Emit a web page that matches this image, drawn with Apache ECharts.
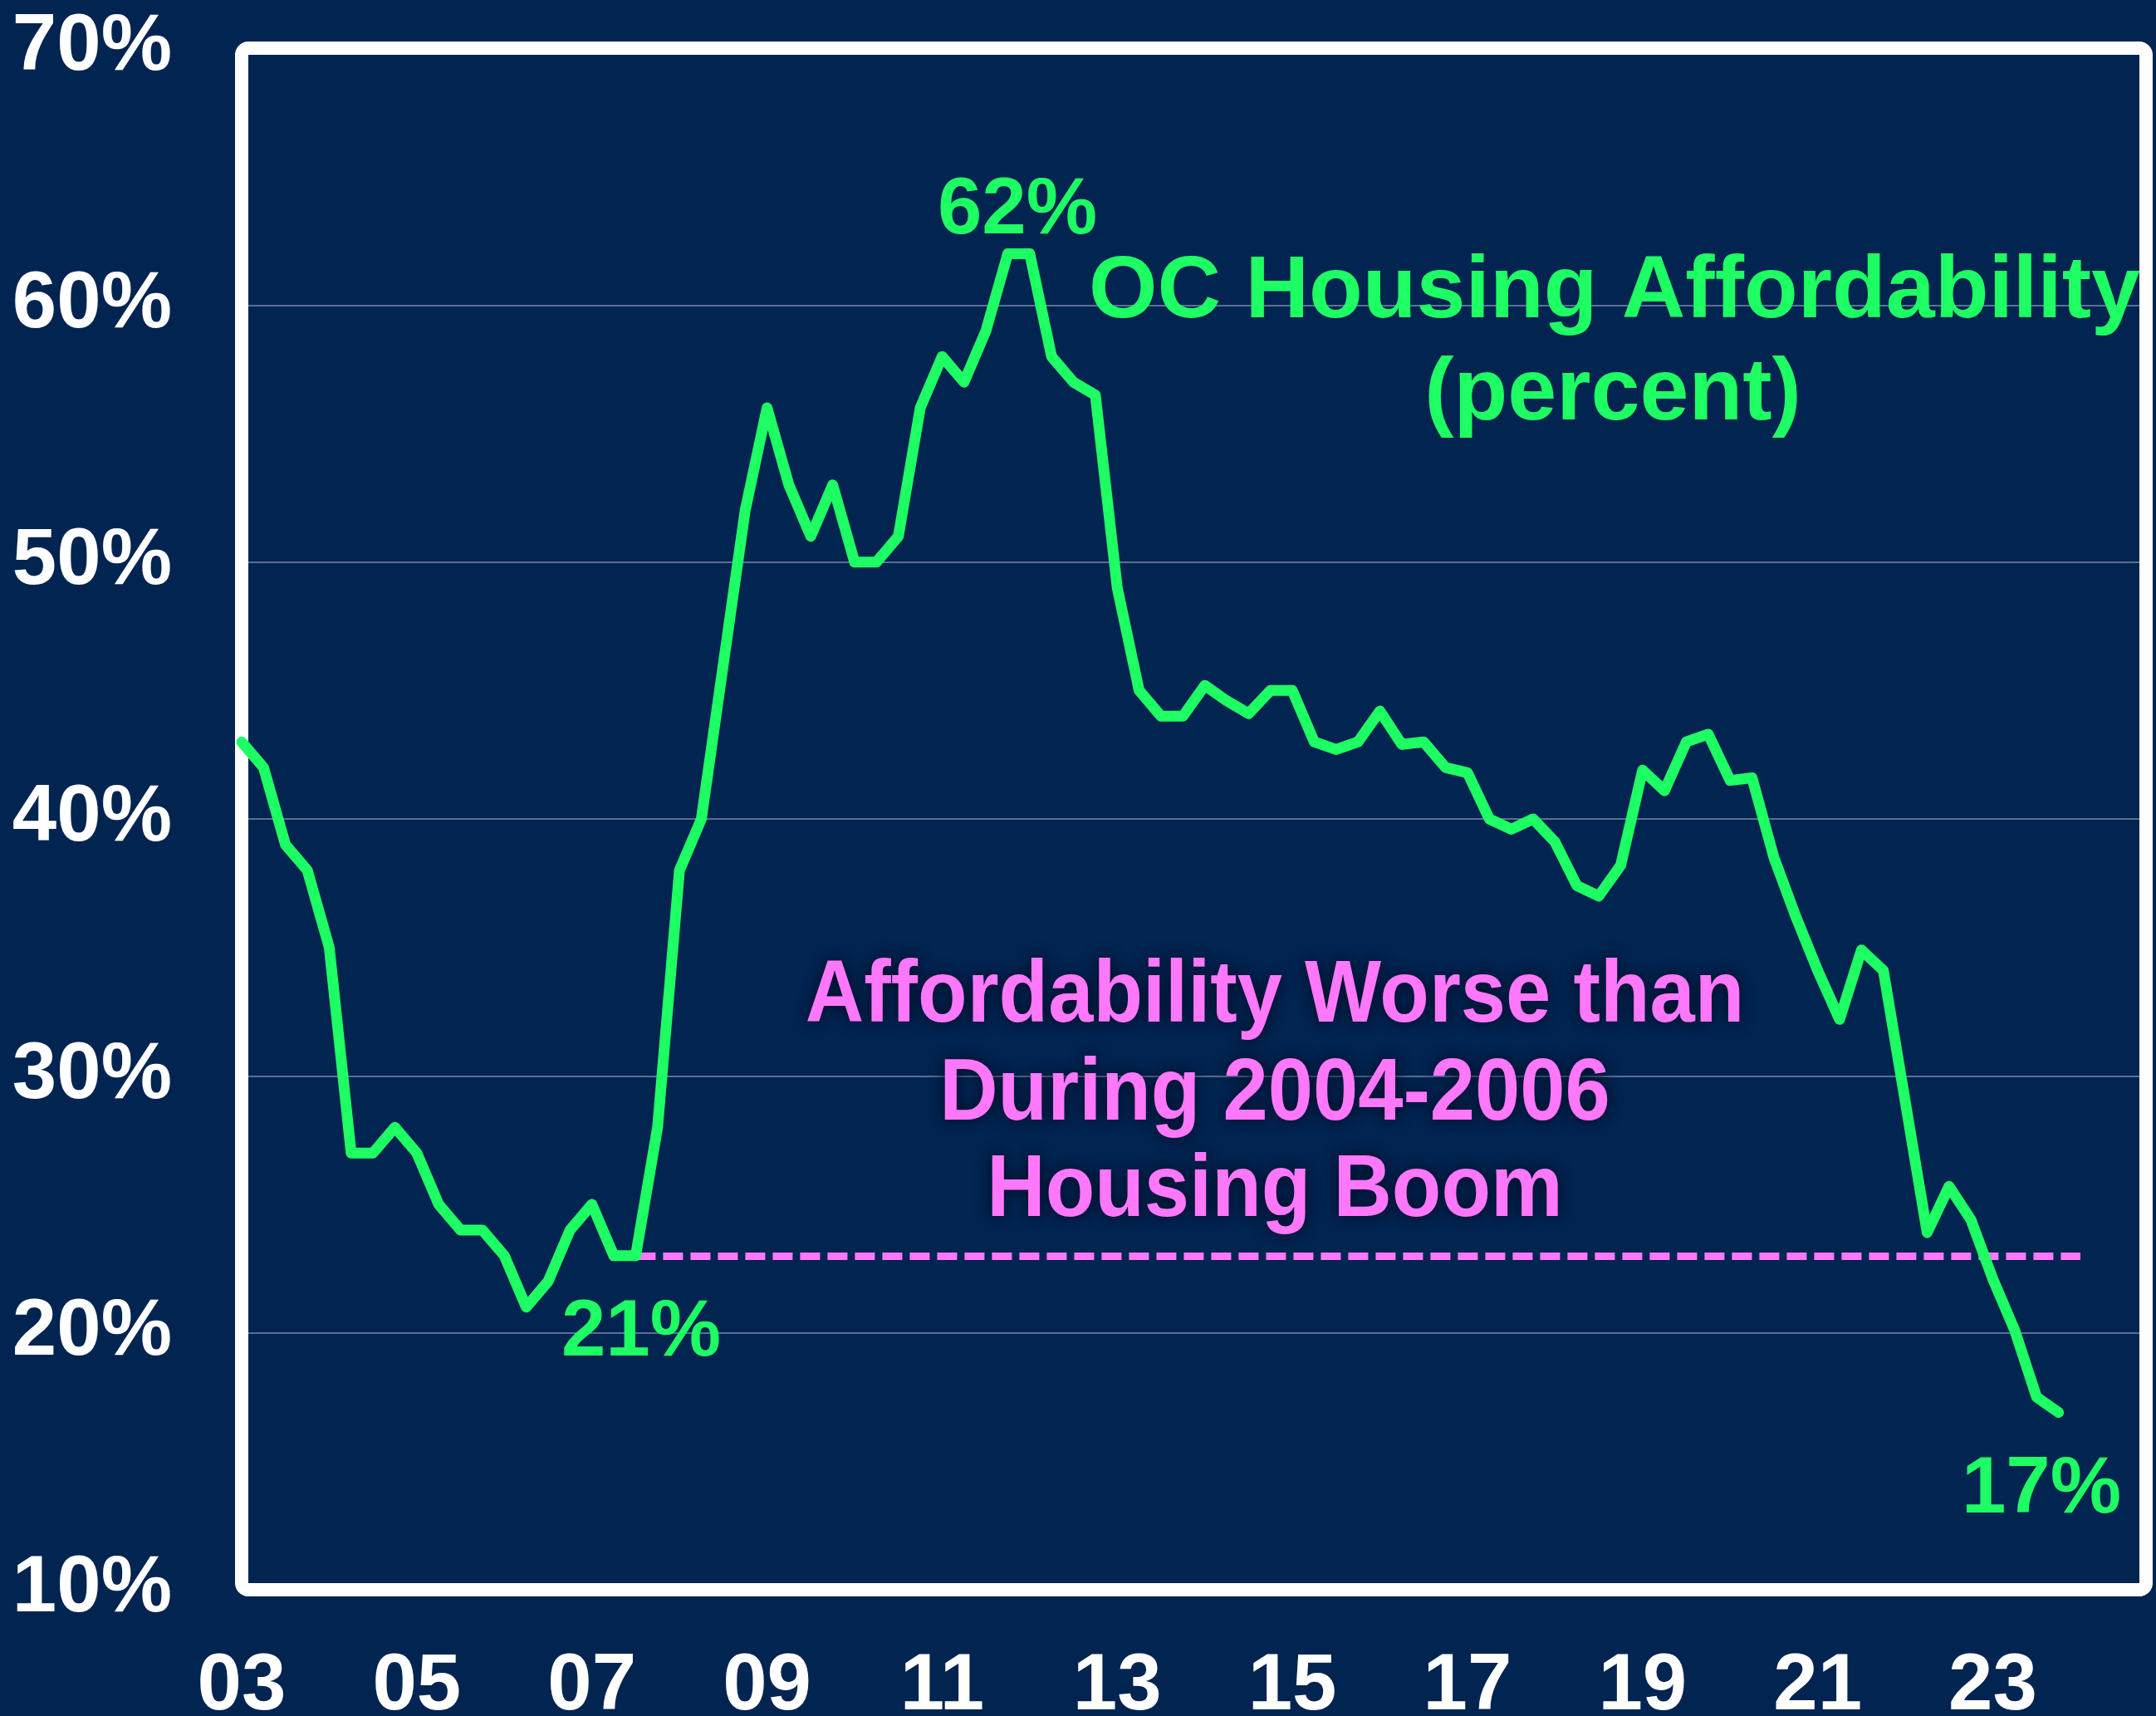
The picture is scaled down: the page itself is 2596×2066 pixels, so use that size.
<!DOCTYPE html>
<html>
<head>
<meta charset="utf-8">
<script src="https://cdn.jsdelivr.net/npm/echarts@6/dist/echarts.min.js"></script>
<style>
  html, body { margin: 0; padding: 0; background: #012451; }
  #chart { width: 2596px; height: 2066px; }
</style>
</head>
<body>
<div id="chart"></div>
<script>
// quarterly categories, 2003Q1 .. 2024Q4 (axis runs a little past the data)
const quarters = [];
for (let y = 2003; y <= 2024; y++) {
  for (let q = 1; q <= 4; q++) quarters.push(y + 'Q' + q);
}

// OC housing affordability, percent, 2003Q1 .. 2023Q4
const affordability = [
  43, 42, 39, 38, 35, 27, 27, 28,
  27, 25, 24, 24, 23, 21, 22, 24,
  25, 23, 23, 28, 38, 40, 46, 52,
  56, 53, 51, 53, 50, 50, 51, 56,
  58, 57, 59, 62, 62, 58, 57, 56.5,
  49, 45, 44, 44, 45.2, 44.6, 44.1, 45,
  45, 43, 42.7, 43, 44.2, 42.9, 43, 42,
  41.8, 40, 39.6, 40, 39.1, 37.4, 37, 38.2,
  41.9, 41.1, 43, 43.3, 41.5, 41.6, 38.5, 36.2,
  34.1, 32.2, 34.9, 34.1, 29, 23.9, 25.7, 24.4,
  22.1, 20.1, 17.5, 16.9
];

// 2004-2006 boom reference level
const boomLevel = 23;
const boomStart = '2007Q3';
const boomEnd = '2024Q1';

const yTicks = [10, 20, 30, 40, 50, 60, 70];

const green = '#1eff64';
const pink = '#ff78fa';
const font = '"Liberation Sans", Arial, sans-serif';

var chart = echarts.init(document.getElementById('chart'));

var option = {
  backgroundColor: '#012451',
  animation: false,
  grid: { left: 291, right: 12, top: 58, bottom: 152, outerBoundsMode: 'none', containLabel: false },
  xAxis: {
    type: 'category',
    data: quarters,
    boundaryGap: false,
    axisLine: { show: false },
    axisTick: { show: false },
    splitLine: { show: false },
    axisLabel: {
      interval: function (index, value) {
        return value.endsWith('Q1') && parseInt(value) % 2 === 1;
      },
      formatter: function (value) { return value.slice(2, 4); },
      color: '#ffffff',
      fontFamily: font,
      fontWeight: 'bold',
      fontSize: 96,
      margin: 70
    }
  },
  yAxis: {
    type: 'value',
    min: yTicks[0],
    max: yTicks[yTicks.length - 1],
    interval: 10,
    axisLine: { show: false },
    axisTick: { show: false },
    splitLine: { lineStyle: { color: '#5b7092', width: 2 } },
    axisLabel: {
      formatter: '{value}%',
      color: '#ffffff',
      fontFamily: font,
      fontWeight: 'bold',
      fontSize: 96,
      margin: 84
    }
  },
  series: [
    {
      type: 'line',
      data: affordability,
      symbol: 'none',
      z: 5,
      lineStyle: { color: green, width: 13, cap: 'round', join: 'round' },
      markLine: {
        silent: true,
        symbol: ['none', 'none'],
        label: { show: false },
        lineStyle: { color: pink, width: 9, type: [24, 9] },
        data: [[
          { coord: [boomStart, boomLevel] },
          { coord: [boomEnd, boomLevel] }
        ]]
      }
    }
  ],
  graphic: [
    {
      // white plot frame
      type: 'rect', z: 1, silent: true,
      shape: { x: 291, y: 58, width: 2293, height: 1856, r: 8 },
      style: { fill: 'none', stroke: '#ffffff', lineWidth: 16 }
    },
    {
      type: 'text', x: 1225, y: 255, z: 10,
      style: { text: '62%', fill: green, font: 'bold 96px ' + font, align: 'center', verticalAlign: 'middle' }
    },
    {
      type: 'text', x: 772, y: 1606, z: 10,
      style: { text: '21%', fill: green, font: 'bold 96px ' + font, align: 'center', verticalAlign: 'middle' }
    },
    {
      type: 'text', x: 2458, y: 1795, z: 10,
      style: { text: '17%', fill: green, font: 'bold 96px ' + font, align: 'center', verticalAlign: 'middle' }
    },
    {
      type: 'text', x: 1944, y: 353, z: 10,
      style: { text: 'OC Housing Affordability', fill: green, font: 'bold 106px ' + font, align: 'center', verticalAlign: 'middle' }
    },
    {
      type: 'text', x: 1942, y: 476, z: 10,
      style: { text: '(percent)', fill: green, font: 'bold 106px ' + font, align: 'center', verticalAlign: 'middle' }
    },
    {
      type: 'text', x: 1535, y: 1201, z: 10, scaleX: 0.92,
      style: {
        text: 'Affordability Worse than', fill: pink, font: 'bold 106px ' + font,
        align: 'center', verticalAlign: 'middle',
        textShadowColor: '#000a22', textShadowBlur: 18
      }
    },
    {
      type: 'text', x: 1535, y: 1319, z: 10, scaleX: 0.92,
      style: {
        text: 'During 2004-2006', fill: pink, font: 'bold 106px ' + font,
        align: 'center', verticalAlign: 'middle',
        textShadowColor: '#000a22', textShadowBlur: 18
      }
    },
    {
      type: 'text', x: 1535, y: 1435, z: 10, scaleX: 0.92,
      style: {
        text: 'Housing Boom', fill: pink, font: 'bold 106px ' + font,
        align: 'center', verticalAlign: 'middle',
        textShadowColor: '#000a22', textShadowBlur: 18
      }
    }
  ]
};

chart.setOption(option);
</script>
</body>
</html>
